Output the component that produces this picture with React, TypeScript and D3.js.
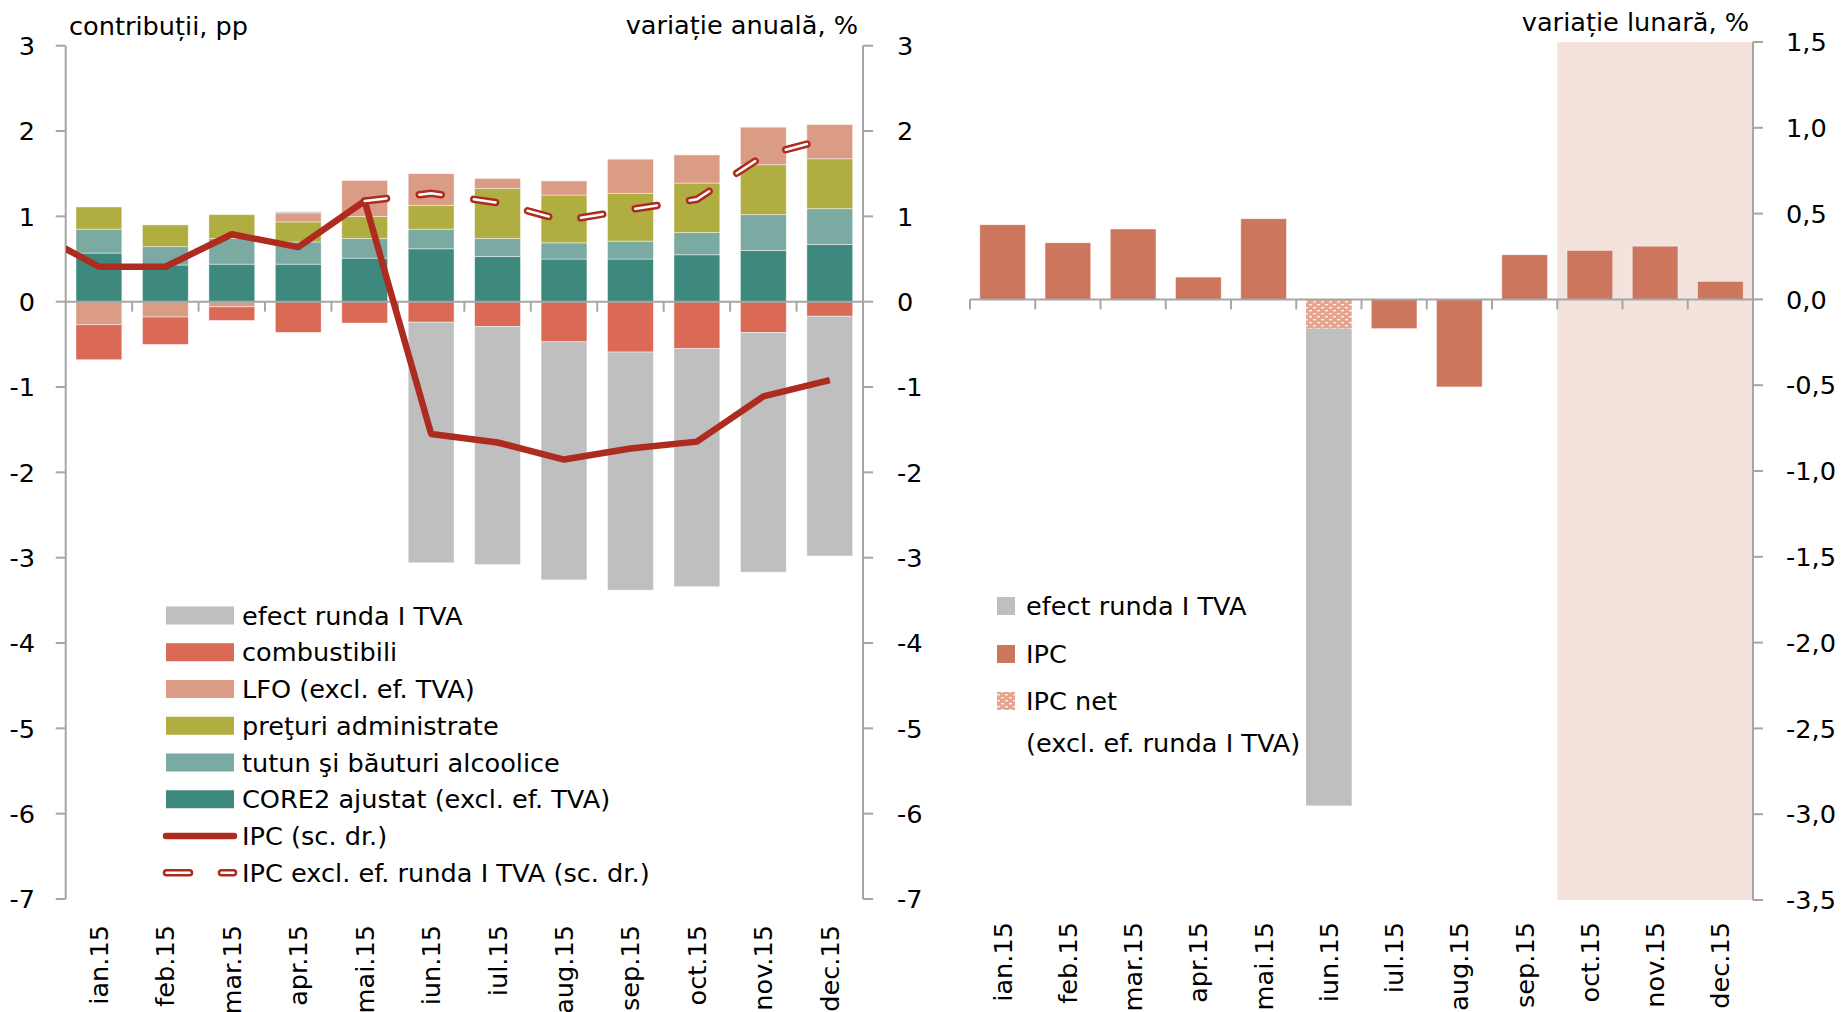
import React, { useEffect, useRef } from "react";
import * as d3 from "d3";

const months = ["ian.15", "feb.15", "mar.15", "apr.15", "mai.15", "iun.15", "iul.15", "aug.15", "sep.15", "oct.15", "nov.15", "dec.15"];

// contributii la rata anuala, pp
const core2 = [0.57, 0.43, 0.44, 0.44, 0.51, 0.62, 0.53, 0.5, 0.5, 0.55, 0.6, 0.67];
const tutun = [0.28, 0.215, 0.3, 0.26, 0.23, 0.23, 0.21, 0.19, 0.21, 0.26, 0.42, 0.42];
const administrate = [0.26, 0.255, 0.28, 0.235, 0.26, 0.28, 0.585, 0.56, 0.56, 0.58, 0.585, 0.585];
const lfo = [-0.27, -0.18, -0.06, 0.105, 0.42, 0.37, 0.12, 0.165, 0.4, 0.33, 0.44, 0.4];
const combustibili = [-0.41, -0.32, -0.16, -0.36, -0.25, -0.24, -0.29, -0.47, -0.59, -0.55, -0.36, -0.17];
const efectTva = [0, 0, 0, 0.015, 0, -2.82, -2.79, -2.79, -2.79, -2.79, -2.81, -2.81];

// variatie anuala, %
const ipcDec14 = 0.83;
const ipcAnual = [0.41, 0.41, 0.79, 0.64, 1.18, -1.55, -1.65, -1.85, -1.72, -1.64, -1.11, -0.92];
const ipcExclTva = [null, null, null, null, 1.18, 1.27, 1.16, 0.95, 1.08, 1.2, 1.71, 1.92];

// variatie lunara, %
const ipcLunar = [0.435, 0.33, 0.41, 0.13, 0.47, null, -0.17, -0.51, 0.26, 0.285, 0.31, 0.105];
const ipcNetLunar = [null, null, null, null, null, -0.17, null, null, null, null, null, null];
const efectTvaLunar = [0, 0, 0, 0, 0, -2.78, 0, 0, 0, 0, 0, 0];

const leftTicks = [-7, -6, -5, -4, -3, -2, -1, 0, 1, 2, 3];
const rightTicks = [-3.5, -3, -2.5, -2, -1.5, -1, -0.5, 0, 0.5, 1, 1.5];
const forecastMonths = ["oct.15", "nov.15", "dec.15"];

const stackKeys = ["core2", "tutun", "administrate", "lfo", "combustibili", "efect"];
const stackColors: Record<string, string> = {
  core2: "#3E897D",
  tutun: "#7AAAA1",
  administrate: "#B0AE41",
  lfo: "#DB9C86",
  combustibili: "#DA6A55",
  efect: "#BFBFBF",
};

const leftLegend = [
  { label: "efect runda I TVA", key: "efect" },
  { label: "combustibili", key: "combustibili" },
  { label: "LFO (excl. ef. TVA)", key: "lfo" },
  { label: "preţuri administrate", key: "administrate" },
  { label: "tutun şi băuturi alcoolice", key: "tutun" },
  { label: "CORE2 ajustat (excl. ef. TVA)", key: "core2" },
];

const FONT = "'DejaVu Sans', sans-serif";
const AXIS = "#A6A6A6";
const IPC_RED = "#AE2B1F";
const GRAY = "#BFBFBF";
const IPC_BAR = "#CC765E";

const App: React.FC = () => {
  const svgRef = useRef(null);

  useEffect(() => {
    const svg = d3.select(svgRef.current);
    svg.selectAll("*").remove();
    svg.style("font-family", FONT).style("font-size", "25.6px");

    const defs = svg.append("defs");
    const pat = defs
      .append("pattern")
      .attr("id", "hatch")
      .attr("patternUnits", "userSpaceOnUse")
      .attr("width", 8)
      .attr("height", 6);
    pat.append("rect").attr("width", 8).attr("height", 6).attr("fill", "#E4A48E");
    pat.append("rect").attr("x", 1).attr("y", 1).attr("width", 3).attr("height", 1.4).attr("fill", "#fff").attr("opacity", 0.85);
    pat.append("rect").attr("x", 5).attr("y", 4).attr("width", 3).attr("height", 1.4).attr("fill", "#fff").attr("opacity", 0.85);
    defs
      .append("clipPath")
      .attr("id", "leftClip")
      .append("rect")
      .attr("x", 66)
      .attr("y", 0)
      .attr("width", 797)
      .attr("height", 1012);

    // ---------- left chart ----------
    const xL = d3.scaleBand().domain(months).range([65.7, 863]).paddingInner(0.31).paddingOuter(0.155);
    const yL = d3.scaleLinear().domain([-7, 3]).range([899, 45.7]);
    const step = xL.step();
    const cL = (i: number) => (xL(months[i]) as number) + xL.bandwidth() / 2;

    const rows = months.map((m, i) => ({
      month: m,
      core2: core2[i],
      tutun: tutun[i],
      administrate: administrate[i],
      lfo: lfo[i],
      combustibili: combustibili[i],
      efect: efectTva[i],
    }));
    const series = d3.stack().keys(stackKeys).offset(d3.stackOffsetDiverging)(rows as any);

    const gL = svg.append("g");
    series.forEach((s: any) => {
      gL.append("g")
        .selectAll("rect")
        .data(s)
        .enter()
        .append("rect")
        .attr("x", (d: any) => xL(d.data.month) as number)
        .attr("width", xL.bandwidth())
        .attr("y", (d: any) => yL(Math.max(d[0], d[1])))
        .attr("height", (d: any) => Math.abs(yL(d[0]) - yL(d[1])))
        .attr("fill", stackColors[s.key])
        .attr("stroke", "rgba(255,255,255,0.55)")
        .attr("stroke-width", 0.8);
    });

    // axes
    gL.append("line").attr("x1", 65.7).attr("x2", 863).attr("y1", yL(0)).attr("y2", yL(0)).attr("stroke", AXIS).attr("stroke-width", 2);
    months.forEach((_, i) => {
      if (i === 0) return;
      const x = 65.7 + step * i;
      gL.append("line").attr("x1", x).attr("x2", x).attr("y1", yL(0)).attr("y2", yL(0) + 10).attr("stroke", AXIS).attr("stroke-width", 2);
    });
    [65.7, 863].forEach((x, k) => {
      gL.append("line").attr("x1", x).attr("x2", x).attr("y1", yL(3)).attr("y2", yL(-7)).attr("stroke", AXIS).attr("stroke-width", 2);
      leftTicks.forEach((t) => {
        gL.append("line")
          .attr("x1", k === 0 ? x - 10 : x)
          .attr("x2", k === 0 ? x : x + 10)
          .attr("y1", yL(t))
          .attr("y2", yL(t))
          .attr("stroke", AXIS)
          .attr("stroke-width", 2);
        gL.append("text")
          .attr("x", k === 0 ? 35 : 897)
          .attr("y", yL(t))
          .attr("dy", "0.36em")
          .attr("text-anchor", k === 0 ? "end" : "start")
          .text(String(t));
      });
    });

    // lines
    const line = d3
      .line<any>()
      .defined((d) => d[1] !== null)
      .x((d) => d[0])
      .y((d) => yL(d[1]));
    const ipcPts = [[cL(0) - step, ipcDec14], ...ipcAnual.map((v, i) => [cL(i), v])];
    gL.append("path")
      .attr("d", line(ipcPts))
      .attr("clip-path", "url(#leftClip)")
      .attr("fill", "none")
      .attr("stroke", IPC_RED)
      .attr("stroke-width", 6.5)
      .attr("stroke-linejoin", "round");
    const exclPts = ipcExclTva.map((v, i) => [cL(i), v]).filter((d) => d[1] !== null);
    gL.append("path")
      .attr("d", line(exclPts))
      .attr("fill", "none")
      .attr("stroke", IPC_RED)
      .attr("stroke-width", 7.5)
      .attr("stroke-linecap", "round")
      .attr("stroke-dasharray", "22 33");
    gL.append("path")
      .attr("d", line(exclPts))
      .attr("fill", "none")
      .attr("stroke", "#fff")
      .attr("stroke-width", 2.5)
      .attr("stroke-linecap", "round")
      .attr("stroke-dasharray", "22 33");

    // x labels
    months.forEach((m, i) => {
      gL.append("text")
        .attr("transform", `translate(${cL(i)},925) rotate(-90)`)
        .attr("dy", "0.35em")
        .attr("text-anchor", "end")
        .text(m);
    });

    gL.append("text").attr("x", 69).attr("y", 35).text("contribuții, pp");
    gL.append("text").attr("x", 858).attr("y", 34).attr("text-anchor", "end").text("variație anuală, %");

    // legend
    const lg = gL.append("g");
    leftLegend.forEach((l, i) => {
      const cy = 615.5 + 36.75 * i;
      lg.append("rect").attr("x", 166).attr("y", cy - 9).attr("width", 68).attr("height", 18).attr("fill", stackColors[l.key]);
      lg.append("text").attr("x", 242).attr("y", cy).attr("dy", "0.36em").text(l.label);
    });
    const cy7 = 615.5 + 36.75 * 6;
    lg.append("line").attr("x1", 166).attr("x2", 234).attr("y1", cy7).attr("y2", cy7).attr("stroke", IPC_RED).attr("stroke-width", 6.5).attr("stroke-linecap", "round");
    lg.append("text").attr("x", 242).attr("y", cy7).attr("dy", "0.36em").text("IPC (sc. dr.)");
    const cy8 = 615.5 + 36.75 * 7;
    lg.append("line").attr("x1", 166.5).attr("x2", 233.5).attr("y1", cy8).attr("y2", cy8).attr("stroke", IPC_RED).attr("stroke-width", 7.5).attr("stroke-linecap", "round").attr("stroke-dasharray", "23 32");
    lg.append("line").attr("x1", 166.5).attr("x2", 233.5).attr("y1", cy8).attr("y2", cy8).attr("stroke", "#fff").attr("stroke-width", 2.5).attr("stroke-linecap", "round").attr("stroke-dasharray", "23 32");
    lg.append("text").attr("x", 242).attr("y", cy8).attr("dy", "0.36em").text("IPC excl. ef. runda I TVA (sc. dr.)");

    // ---------- right chart ----------
    const xR = d3.scaleBand().domain(months).range([970, 1753]).paddingInner(0.3).paddingOuter(0.15);
    const yR = d3.scaleLinear().domain([-3.5, 1.5]).range([900, 42]);
    const stepR = xR.step();
    const cR = (i: number) => (xR(months[i]) as number) + xR.bandwidth() / 2;
    const gR = svg.append("g");

    const fx0 = 970 + stepR * months.indexOf(forecastMonths[0]);
    gR.append("rect").attr("x", fx0).attr("y", yR(1.5)).attr("width", 1753 - fx0).attr("height", yR(-3.5) - yR(1.5)).attr("fill", "#F4E3DD");

    months.forEach((m, i) => {
      const x = xR(m) as number;
      const w = xR.bandwidth();
      const v = ipcLunar[i];
      const net = ipcNetLunar[i];
      const base = v !== null ? v : net !== null ? net : 0;
      if (v !== null) {
        gR.append("rect").attr("x", x).attr("width", w).attr("y", yR(Math.max(0, v))).attr("height", Math.abs(yR(v) - yR(0))).attr("fill", IPC_BAR).attr("stroke", "rgba(255,255,255,0.5)").attr("stroke-width", 0.8);
      }
      if (net !== null) {
        gR.append("rect").attr("x", x).attr("width", w).attr("y", yR(Math.max(0, net))).attr("height", Math.abs(yR(net) - yR(0))).attr("fill", "url(#hatch)");
      }
      if (efectTvaLunar[i] !== 0) {
        const e = efectTvaLunar[i];
        gR.append("rect").attr("x", x).attr("width", w).attr("y", yR(Math.min(base, 0))).attr("height", Math.abs(yR(e) - yR(0))).attr("fill", GRAY);
      }
    });

    gR.append("line").attr("x1", 970).attr("x2", 1753).attr("y1", yR(0)).attr("y2", yR(0)).attr("stroke", AXIS).attr("stroke-width", 2);
    months.forEach((_, i) => {
      const x = 970 + stepR * i;
      gR.append("line").attr("x1", x).attr("x2", x).attr("y1", yR(0)).attr("y2", yR(0) + 10).attr("stroke", AXIS).attr("stroke-width", 2);
    });
    gR.append("line").attr("x1", 1753).attr("x2", 1753).attr("y1", yR(1.5)).attr("y2", yR(-3.5)).attr("stroke", AXIS).attr("stroke-width", 2);
    const fmt = (t: number) => d3.format(".1f")(t).replace(".", ",").replace("−", "-");
    rightTicks.forEach((t) => {
      gR.append("line").attr("x1", 1753).attr("x2", 1763).attr("y1", yR(t)).attr("y2", yR(t)).attr("stroke", AXIS).attr("stroke-width", 2);
      gR.append("text").attr("x", 1786).attr("y", yR(t)).attr("dy", "0.36em").text(fmt(t));
    });
    months.forEach((m, i) => {
      gR.append("text")
        .attr("transform", `translate(${cR(i)},922) rotate(-90)`)
        .attr("dy", "0.35em")
        .attr("text-anchor", "end")
        .text(m);
    });
    gR.append("text").attr("x", 1749).attr("y", 31).attr("text-anchor", "end").text("variație lunară, %");

    const rl = gR.append("g");
    rl.append("rect").attr("x", 997).attr("y", 597).attr("width", 18).attr("height", 18).attr("fill", GRAY);
    rl.append("text").attr("x", 1026).attr("y", 606).attr("dy", "0.36em").text("efect runda I TVA");
    rl.append("rect").attr("x", 997).attr("y", 645).attr("width", 18).attr("height", 18).attr("fill", IPC_BAR);
    rl.append("text").attr("x", 1026).attr("y", 654).attr("dy", "0.36em").text("IPC");
    rl.append("rect").attr("x", 997).attr("y", 692).attr("width", 18).attr("height", 18).attr("fill", "url(#hatch)");
    rl.append("text").attr("x", 1026).attr("y", 701).attr("dy", "0.36em").text("IPC net");
    rl.append("text").attr("x", 1026).attr("y", 743).attr("dy", "0.36em").text("(excl. ef. runda I TVA)");
  }, []);

  return (
    <svg
      ref={svgRef}
      width={1841}
      height={1012}
      style={{ position: "absolute", left: 0, top: 0, background: "#fff" }}
    />
  );
};

export default App;
